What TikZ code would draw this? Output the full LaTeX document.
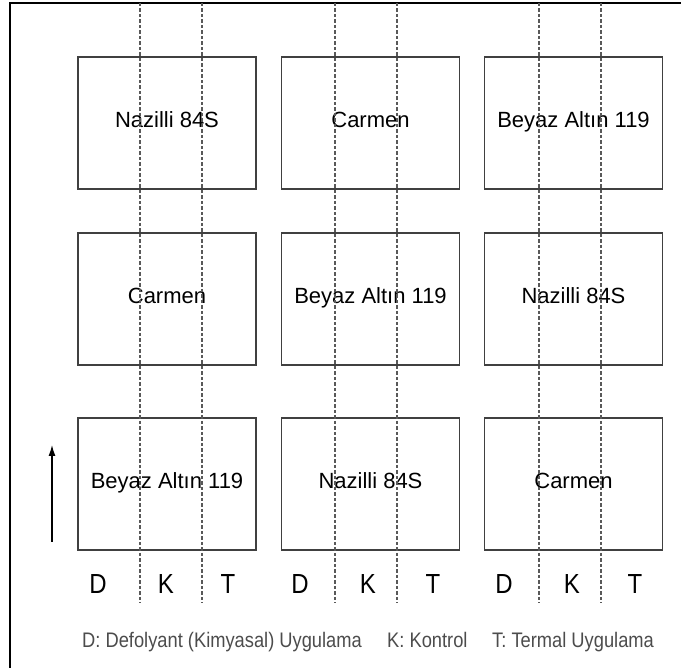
\documentclass[tikz,border=0pt]{standalone}
\usepackage{fontspec}
\setmainfont{Liberation Sans}
\usetikzlibrary{arrows.meta,positioning}

\tikzset{
  parcel/.style={draw=black!75, line width=1.3pt, minimum width=178pt,
    minimum height=132pt, inner sep=0pt, text height=15pt, text depth=5pt,
    font=\fontsize{22}{26}\selectfont},
  strip/.style={draw=black!65, line width=1.4pt, dash pattern=on 3.5pt off 2pt},
  trt/.style={font=\fontsize{24}{28}\selectfont, anchor=base, inner sep=0pt},
  legend/.style={font=\fontsize{18.3}{22}\selectfont, text=black!70,
    anchor=base west, inner sep=0pt}
}
\newcommand{\tall}[1]{\scalebox{1}[1.15]{#1}}

\begin{document}
\begin{tikzpicture}[x=1pt,y=-1pt]
\useasboundingbox (0,0) rectangle (681,668);
% frame, top and left edges
\draw[line width=1.3pt] (10,668) -- (10,3) -- (681,3);
% parcels, one row at a time
\foreach \r/\y/\a/\b/\c in {
    1/123/Nazilli 84S/Carmen/Beyaz Altın 119,
    2/299/Carmen/Beyaz Altın 119/Nazilli 84S,
    3/484/Beyaz Altın 119/Nazilli 84S/Carmen} {
  \node[parcel] (p\r1) at (167,\y) {\a};
  \node[parcel] (p\r2) at (370.5,\y) {\b};
  \node[parcel] (p\r3) at (573.5,\y) {\c};
}
% strip borders
\foreach \x in {140,202,335,397,539,601}
  \draw[strip] (\x,3) -- (\x,603);
% treatments
\foreach \x/\t in {98/D,166/K,228/T,300/D,368/K,433/T,504/D,572/K,635/T}
  \node[trt] (t\x) at (\x,594) {\tall{\t}};
% direction
\coordinate (dirA) at (52,542);
\coordinate (dirB) at (52,445);
\draw[-{Latex[length=11pt,width=7pt]}, line width=1.3pt] (dirA) -- (dirB);
% legend
\node[legend] (legD) at (82,647) {\tall{D: Defolyant (Kimyasal) Uygulama}};
\node[legend] (legK) at (387,647) {\tall{K: Kontrol}};
\node[legend] (legT) at (492,647) {\tall{T: Termal Uygulama}};
\end{tikzpicture}
\end{document}
